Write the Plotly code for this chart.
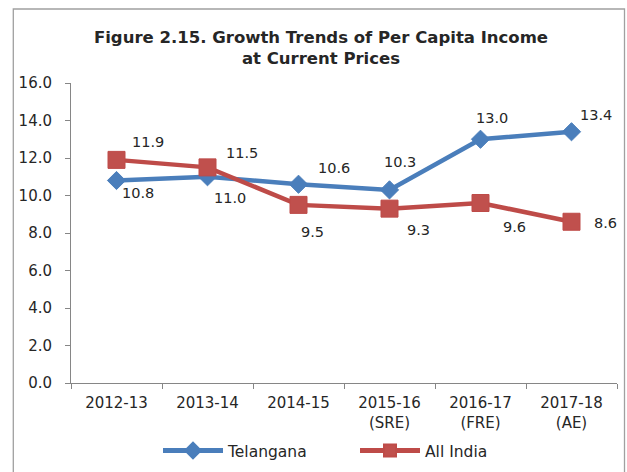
import plotly.graph_objects as go

categories = ["2012-13", "2013-14", "2014-15", "2015-16<br>(SRE)", "2016-17<br>(FRE)", "2017-18<br>(AE)"]
telangana = [10.8, 11.0, 10.6, 10.3, 13.0, 13.4]
all_india = [11.9, 11.5, 9.5, 9.3, 9.6, 8.6]
y_ticks = [0, 2, 4, 6, 8, 10, 12, 14, 16]

# label offsets (pixels) for data labels
tel_dx = [21, 22, 35, 10, 11, 24]
tel_dy = [-12, -21, 16, 28, 21, 17]
ind_dx = [31, 34, 14, 29, 34, 34]
ind_dy = [18, 14, -27, -21, -24, -1]

BLUE = "#4A7EBB"
RED = "#C0504D"
AXIS = "#868686"
TXT = "#262626"
FONT = "DejaVu Sans"

fig = go.Figure()
fig.add_trace(go.Scatter(
    x=categories, y=telangana, name="Telangana", mode="lines+markers",
    line=dict(color=BLUE, width=4.5),
    marker=dict(symbol="diamond", size=14, color=BLUE, line=dict(color=BLUE, width=1)),
))
fig.add_trace(go.Scatter(
    x=categories, y=all_india, name="All India", mode="lines+markers",
    line=dict(color="#BE4B48", width=4.5),
    marker=dict(symbol="square", size=17, color=RED, line=dict(color="#BE4B48", width=1)),
))

annotations = []
for vals, dxs, dys in ((telangana, tel_dx, tel_dy), (all_india, ind_dx, ind_dy)):
    for c, v, dx, dy in zip(categories, vals, dxs, dys):
        annotations.append(dict(
            x=c, y=v, xref="x", yref="y", text=f"{v:.1f}", showarrow=False,
            xshift=dx, yshift=dy, font=dict(family=FONT, size=14.5, color=TXT),
        ))

fig.update_layout(
    width=627, height=472,
    margin=dict(l=71, r=10, t=83, b=89),
    paper_bgcolor="white", plot_bgcolor="white",
    title=dict(
        text="<b>Figure 2.15. Growth Trends of Per Capita Income<br>at Current Prices</b>",
        x=321 / 627, xref="container", xanchor="center",
        y=1 - 43 / 472, yref="container", yanchor="middle",
        font=dict(family=FONT, size=16.5, color=TXT),
    ),
    showlegend=True,
    legend=dict(
        orientation="h", xref="container", x=158 / 627, xanchor="left",
        yref="container", y=1 - 451 / 472, yanchor="middle",
        font=dict(family=FONT, size=15.5, color=TXT),
        bgcolor="rgba(0,0,0,0)", itemclick=False, itemwidth=60,
        itemsizing="constant", entrywidth=122,
    ),
    annotations=annotations,
    shapes=[dict(
        type="rect", xref="paper", yref="paper",
        x0=(13.3 - 71) / 546, x1=(624.5 - 71) / 546, y0=-0.6, y1=(383 - 9) / 300,
        line=dict(color="#A0A0A0", width=1.3), fillcolor="rgba(0,0,0,0)", layer="below",
    )],
)

fig.update_xaxes(
    type="category", range=[-0.5, 5.5], showgrid=False, zeroline=False,
    showline=True, linecolor=AXIS, linewidth=1,
    ticks="outside", tickson="boundaries", ticklen=5, tickcolor=AXIS,
    ticklabelstandoff=6, automargin=False,
    tickfont=dict(family=FONT, size=15, color=TXT), fixedrange=True,
)
fig.update_yaxes(
    range=[0, 16], tickvals=y_ticks, tickformat=".1f", showgrid=False, zeroline=False,
    showline=True, linecolor=AXIS, linewidth=1, automargin=False,
    ticks="outside", ticklen=5, tickcolor=AXIS, ticklabelstandoff=10,
    tickfont=dict(family=FONT, size=15, color=TXT), fixedrange=True,
)

fig.write_html(
    "out.html",
    config={"displayModeBar": False},
    post_script="document.body.style.margin='0';document.body.style.overflow='hidden';",
)
